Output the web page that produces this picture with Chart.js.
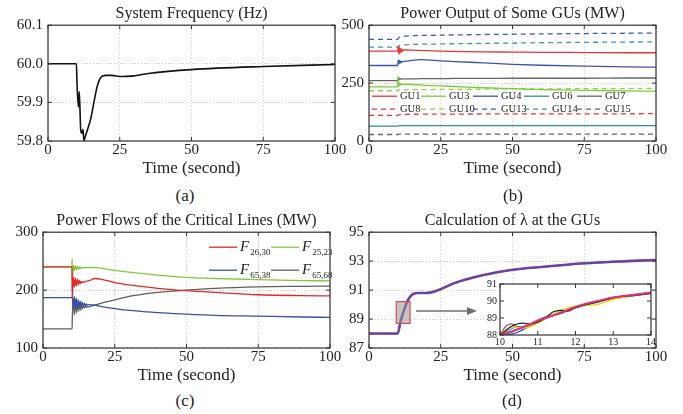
<!DOCTYPE html>
<html>
<head>
<meta charset="utf-8">
<script src="https://cdn.jsdelivr.net/npm/chart.js@4.4.1/dist/chart.umd.min.js"></script>
<style>
body{margin:0;background:#fff;width:683px;height:414px;position:relative;overflow:hidden;font-family:'Liberation Serif',serif;color:#222;}
canvas{position:absolute;}
.lab{position:absolute;font-size:17px;transform:translate(-50%,-50%);white-space:nowrap;}
</style>
</head>
<body>
<canvas id="cA" width="360" height="180" style="left:0;top:0"></canvas>
<canvas id="cB" width="343" height="180" style="left:340px;top:0"></canvas>
<canvas id="cC" width="360" height="180" style="left:0;top:207px"></canvas>
<canvas id="cD" width="343" height="180" style="left:340px;top:207px"></canvas>
<canvas id="cI" width="180" height="76" style="left:478px;top:276px"></canvas>
<div class="lab" style="left:185px;top:196px">(a)</div>
<div class="lab" style="left:513px;top:196px">(b)</div>
<div class="lab" style="left:185px;top:401px">(c)</div>
<div class="lab" style="left:512px;top:401px">(d)</div>
<script>
const FONT = 'Liberation Serif';

// ticks
const timeTicks = [0, 25, 50, 75, 100];
const freqTicks = [59.8, 59.9, 60.0, 60.1];
const guTicks = [0, 250, 500];
const flowTicks = [100, 200, 300];
const lamTicks = [87, 89, 91, 93, 95];
const zoomTimeTicks = [10, 11, 12, 13, 14];
const zoomLamTicks = [88, 89, 90, 91];

// (a) system frequency
const tFreq = [0, 9.9, 10.1, 10.6, 10.9, 11.4, 11.8, 12.2, 12.5, 12.9, 13.7, 14.9, 16, 17.2, 18.3, 20, 22.2, 25.6, 29, 35, 50, 75, 100];
const freq = [60.0, 60.0, 59.95, 59.888, 59.928, 59.828, 59.82, 59.83, 59.80, 59.81, 59.828, 59.858, 59.90, 59.943, 59.964, 59.97, 59.97, 59.967, 59.968, 59.975, 59.985, 59.993, 59.998];

// (b) power output of some GUs
const tGU = [0, 10, 10.2, 10.4, 10.6, 10.8, 11.0, 11.2, 11.5, 11.8, 12.2, 13, 15, 18, 20, 25, 30, 40, 50, 60, 75, 90, 100];
const gu1 = [388, 388, 410, 375, 405, 380, 400, 384, 396, 388, 394, 393, 392, 391, 390, 388, 387, 385, 384, 383, 382, 381, 381];
const gu3 = [234, 234, 278, 238, 250, 240, 248, 242, 246, 244, 245, 245, 244, 242, 240, 238, 235, 230, 226, 222, 219, 216, 215];
const gu4 = [326, 326, 350, 332, 347, 336, 345, 339, 344, 342, 344, 345, 348, 351, 350, 346, 343, 337, 331, 327, 323, 320, 319];
const gu7 = [261, 261, 275, 265, 270, 266, 269, 267, 268, 268, 268, 268, 268, 269, 269, 269, 270, 270, 271, 271, 271, 272, 272];
const gu10 = [217, 217, 222, 219, 221, 220, 221, 220, 221, 221, 221, 221, 222, 222, 222, 223, 223, 224, 225, 225, 226, 226, 227];
const tGUflat = [0, 10, 10.5, 12, 25, 50, 75, 100];
const gu6 = [64, 64, 66, 66, 66, 66, 66, 66];
const gu8 = [111, 111, 114, 115, 116, 117, 117, 118];
const gu13 = [439, 439, 448, 452, 457, 461, 464, 466];
const gu14 = [405, 405, 412, 415, 419, 423, 426, 428];
const gu15 = [28, 28, 30, 30, 30, 30, 30, 30];

// (c) power flows of the critical lines
const tFlow = [0, 10.1, 10.15, 10.2, 10.55, 10.9, 11.25, 11.6, 11.95, 12.3, 12.65, 13.0, 13.35, 13.7, 14.05, 14.4, 14.75, 15.1, 15.45, 15.8, 16.5, 18, 20, 25, 30, 35, 40, 50, 60, 75, 90, 100];
const f2630 = [240, 240, 215, 185, 222, 205, 221, 207, 219, 209, 217, 211, 215, 213, 214, 214, 215, 215, 216, 216, 217, 220, 219, 213, 209, 206, 203, 199, 196, 192, 190.5, 190];
const f2523 = [240, 240, 254, 198, 243, 234, 242, 235, 241, 236, 240, 237, 239.5, 238, 239, 238.5, 239, 239, 239, 239, 239, 239, 238, 234, 231, 228.5, 226, 222, 220, 218, 216.5, 216];
const f6538 = [187, 187, 187, 190, 168, 189, 169, 186, 170, 183, 171, 181, 172, 179, 173, 177, 173.5, 176, 174, 175, 174.5, 174, 172, 168, 165, 163, 161, 158.5, 156.5, 155, 153.5, 153];
const f6568 = [133, 133, 133, 150, 185, 157, 183, 160, 180, 163, 178, 165, 176, 167, 174, 169, 173, 170, 172, 171, 172, 174, 177, 183, 189, 193, 196, 200, 203, 205.5, 206.5, 207];

// (d) lambda at the GUs
const tLam = [0, 10, 11, 12, 13, 14, 15, 16, 17, 20, 22, 25, 30, 35, 40, 50, 60, 75, 90, 100];
const lam = [88, 88, 88.85, 89.5, 90.05, 90.45, 90.68, 90.78, 90.8, 90.8, 90.86, 91.07, 91.5, 91.8, 92.05, 92.4, 92.6, 92.85, 93.0, 93.08];
// zoomed window 10-14 s
const tZoom = [10, 10.15, 10.3, 10.45, 10.6, 10.8, 11, 11.2, 11.4, 11.6, 11.8, 12, 12.3, 12.6, 13, 13.5, 14];
const lamBlack = [88, 88.25, 88.5, 88.65, 88.7, 88.65, 88.75, 89.0, 89.35, 89.45, 89.4, 89.6, 89.8, 89.95, 90.2, 90.32, 90.45];
const lamYellow = [88, 88.3, 88.5, 88.45, 88.4, 88.5, 88.7, 88.95, 89.2, 89.45, 89.6, 89.7, 89.75, 89.8, 90.1, 90.3, 90.45];
const lamPurple = [88, 88.5, 88.65, 88.5, 88.45, 88.55, 88.8, 89.0, 89.15, 89.3, 89.45, 89.6, 89.85, 90.0, 90.2, 90.35, 90.5];
const lamBlue = [88, 88.0, 88.05, 88.15, 88.3, 88.55, 88.85, 89.05, 89.15, 89.25, 89.45, 89.6, 89.8, 89.95, 90.15, 90.3, 90.45];
const lamGreen = [88, 88.05, 88.15, 88.3, 88.45, 88.6, 88.8, 88.95, 89.15, 89.35, 89.5, 89.65, 89.8, 89.95, 90.15, 90.3, 90.45];
const lamCyan = [88, 88.15, 88.35, 88.5, 88.5, 88.55, 88.8, 89.05, 89.2, 89.3, 89.45, 89.6, 89.85, 90.0, 90.2, 90.33, 90.47];
const lamPink = [88, 88.1, 88.2, 88.32, 88.45, 88.65, 88.85, 89.0, 89.15, 89.3, 89.48, 89.65, 89.85, 90.0, 90.2, 90.35, 90.5];

// marked region in (d) and the arrow towards the inset
const zoomBox = {x0: 9.5, x1: 14.3, y0: 88.7, y1: 90.2};
const arrowAt = {x0: 16.4, x1: 37.6, y: 89.55};

function pts(t, v) { return t.map((x, i) => ({x: x, y: v[i]})); }

// order: lower numbers are painted on top
function line(label, t, v, color, width, dash, order) {
  return {label: label, data: pts(t, v), borderColor: color, borderWidth: width,
    borderDash: dash || [], pointRadius: 0, fill: false, cubicInterpolationMode: 'monotone',
    order: order || 0};
}

// frame round the plot area with inward tick marks
const boxPlugin = {
  id: 'box',
  beforeDraw(chart, args, o) {
    if (!o.white) return;
    const a = chart.chartArea;
    chart.ctx.save();
    chart.ctx.fillStyle = '#fff';
    chart.ctx.fillRect(a.left, a.top, a.width, a.height);
    chart.ctx.restore();
  },
  afterDraw(chart) {
    const {ctx, chartArea: a, scales} = chart;
    ctx.save();
    ctx.strokeStyle = '#333';
    ctx.lineWidth = 1.2;
    ctx.strokeRect(a.left, a.top, a.width, a.height);
    ctx.lineWidth = 1;
    ctx.beginPath();
    scales.x.ticks.forEach(t => {
      const p = scales.x.getPixelForValue(t.value);
      ctx.moveTo(p, a.bottom); ctx.lineTo(p, a.bottom - 4);
      ctx.moveTo(p, a.top); ctx.lineTo(p, a.top + 4);
    });
    scales.y.ticks.forEach(t => {
      const p = scales.y.getPixelForValue(t.value);
      ctx.moveTo(a.left, p); ctx.lineTo(a.left + 4, p);
      ctx.moveTo(a.right, p); ctx.lineTo(a.right - 4, p);
    });
    ctx.stroke();
    ctx.restore();
  }
};

// legend drawn inside the plot area
const inLegend = {
  id: 'inLegend',
  afterDraw(chart, args, o) {
    if (!o.cols) return;
    const {ctx, chartArea: a} = chart;
    chart.data.datasets.forEach((ds, i) => {
      const c = i % o.cols, r = Math.floor(i / o.cols);
      const x = a.left + o.x[c], y = a.top + o.y[r];
      ctx.save();
      ctx.strokeStyle = ds.borderColor;
      ctx.lineWidth = 1.3;
      ctx.setLineDash(ds.borderDash);
      ctx.beginPath(); ctx.moveTo(x, y); ctx.lineTo(x + o.len, y); ctx.stroke();
      ctx.setLineDash([]);
      ctx.fillStyle = '#222';
      ctx.textBaseline = 'middle';
      const tx = x + o.len + 3;
      if (o.sub) {
        ctx.font = 'italic ' + o.size + 'px ' + FONT;
        ctx.fillText(ds.label[0], tx, y);
        const w = ctx.measureText(ds.label[0]).width;
        ctx.font = Math.round(o.size * 0.6) + 'px ' + FONT;
        ctx.fillText(ds.label.slice(1), tx + w + 1, y + 5);
      } else {
        ctx.font = o.size + 'px ' + FONT;
        ctx.fillText(ds.label, tx, y);
      }
      ctx.restore();
    });
  }
};

// grey box with red edge and arrow in (d)
const zoomMark = {
  id: 'zoomMark',
  afterDatasetsDraw(chart, args, o) {
    if (!o.box) return;
    const {ctx, scales: {x, y}} = chart;
    const bx0 = x.getPixelForValue(o.box.x0), bx1 = x.getPixelForValue(o.box.x1);
    const by0 = y.getPixelForValue(o.box.y1), by1 = y.getPixelForValue(o.box.y0);
    ctx.save();
    ctx.fillStyle = 'rgba(150,150,150,0.55)';
    ctx.fillRect(bx0, by0, bx1 - bx0, by1 - by0);
    ctx.strokeStyle = '#e04848';
    ctx.lineWidth = 1.2;
    ctx.strokeRect(bx0, by0, bx1 - bx0, by1 - by0);
    const ax0 = x.getPixelForValue(o.arrow.x0), ax1 = x.getPixelForValue(o.arrow.x1);
    const ay = y.getPixelForValue(o.arrow.y);
    ctx.strokeStyle = '#6e6e6e';
    ctx.fillStyle = '#6e6e6e';
    ctx.lineWidth = 1.5;
    ctx.beginPath(); ctx.moveTo(ax0, ay); ctx.lineTo(ax1 - 8, ay); ctx.stroke();
    ctx.beginPath(); ctx.moveTo(ax1, ay); ctx.lineTo(ax1 - 10, ay - 4); ctx.lineTo(ax1 - 10, ay + 4); ctx.closePath(); ctx.fill();
    ctx.restore();
  }
};

Chart.register(boxPlugin, inLegend, zoomMark);

function axis(tickList, min, max, size, fmt, extra) {
  const s = {
    type: 'linear', min: min, max: max,
    afterBuildTicks: sc => { sc.ticks = tickList.map(v => ({value: v})); },
    ticks: {font: {family: FONT, size: size, lineHeight: 1}, color: '#222', padding: 2,
      maxRotation: 0, autoSkip: false, callback: fmt || (v => String(v))},
    grid: {color: '#cdcdcd', lineWidth: 1, drawTicks: false},
    border: {display: false, dash: [1, 2]}
  };
  return Object.assign(s, extra || {});
}

function timeAxis() {
  return axis(timeTicks, 0, 100, 15, null, {
    title: {display: true, text: 'Time (second)', font: {family: FONT, size: 17, lineHeight: 1}, color: '#222', padding: 0}
  });
}

function yAxis(tickList, min, max, width, fmt) {
  const s = axis(tickList, min, max, 15, fmt);
  s.ticks.padding = 5;
  s.afterFit = sc => { sc.width = width; };
  return s;
}

function options(title, padding, x, y, plugins) {
  return {
    responsive: false, animation: false, devicePixelRatio: 1,
    layout: {padding: padding},
    scales: {x: x, y: y},
    plugins: Object.assign({
      legend: {display: false}, tooltip: {enabled: false},
      title: {display: !!title, text: title, fullSize: false, color: '#222',
        font: {family: FONT, size: 16, weight: 'normal', lineHeight: 1.2}, padding: {top: 4, bottom: 2}}
    }, plugins || {})
  };
}

new Chart(document.getElementById('cA'), {
  type: 'line',
  data: {datasets: [line('Frequency', tFreq, freq, '#111', 1.6)]},
  options: options('System Frequency (Hz)', {left: 8, right: 25, top: 0, bottom: 3},
    timeAxis(), yAxis(freqTicks, 59.8, 60.1, 40, v => v.toFixed(1)))
});

new Chart(document.getElementById('cB'), {
  type: 'line',
  data: {datasets: [
    line('GU1', tGU, gu1, '#e8353a', 1.3),
    line('GU3', tGU, gu3, '#7ccc3a', 1.3),
    line('GU4', tGU, gu4, '#3a55ad', 1.3),
    line('GU6', tGUflat, gu6, '#2f8f8f', 1.3),
    line('GU7', tGU, gu7, '#666', 1.3),
    line('GU8', tGUflat, gu8, '#e8353a', 1.3, [5, 4]),
    line('GU10', tGU, gu10, '#8fd04a', 1.3, [5, 4]),
    line('GU13', tGUflat, gu13, '#3a5bc0', 1.3, [5, 4]),
    line('GU14', tGUflat, gu14, '#3a9a9a', 1.3, [5, 4]),
    line('GU15', tGUflat, gu15, '#666', 1.3, [5, 4])
  ]},
  options: options('Power Output of Some GUs (MW)', {left: 0, right: 27, top: 0, bottom: 3},
    timeAxis(), yAxis(guTicks, 0, 500, 29),
    {inLegend: {cols: 5, x: [3, 52, 104, 155, 208], y: [71, 84], len: 25, size: 10.5}})
});

new Chart(document.getElementById('cC'), {
  type: 'line',
  data: {datasets: [
    line('F26,30', tFlow, f2630, '#e02828', 1.3, null, 0),
    line('F25,23', tFlow, f2523, '#82c840', 1.3, null, 1),
    line('F65,38', tFlow, f6538, '#3552a8', 1.3, null, 0),
    line('F65,68', tFlow, f6568, '#5f5f5f', 1.3, null, 1)
  ]},
  options: options('Power Flows of the Critical Lines (MW)', {left: 3, right: 30, top: 0, bottom: 3},
    timeAxis(), yAxis(flowTicks, 100, 300, 40),
    {inLegend: {cols: 2, x: [166, 228], y: [15, 38], len: 28, size: 15, sub: true}})
});

new Chart(document.getElementById('cD'), {
  type: 'line',
  data: {datasets: [
    line('GU b', tLam, lam, '#4650b4', 1.8, null, 0),
    line('GU a', tLam, lam, '#d0306a', 2.6, null, 1)
  ]},
  options: options('Calculation of \u03bb at the GUs', {left: 0, right: 27, top: 0, bottom: 3},
    timeAxis(), yAxis(lamTicks, 87, 95, 29),
    {zoomMark: {box: zoomBox, arrow: arrowAt}})
});

const insetX = axis(zoomTimeTicks, 10, 14, 10);
insetX.grid = {display: false, drawTicks: false};
const insetY = axis(zoomLamTicks, 88, 91, 10);
insetY.grid = {display: false, drawTicks: false};
insetY.ticks.padding = 3;
insetY.afterFit = sc => { sc.width = 22; };
new Chart(document.getElementById('cI'), {
  type: 'line',
  data: {datasets: [
    line('pink', tZoom, lamPink, '#e0307a', 2, null, 0),
    line('black', tZoom, lamBlack, '#222', 1.2, null, 1),
    line('yellow', tZoom, lamYellow, '#e8d800', 1.4, null, 1),
    line('purple', tZoom, lamPurple, '#a040c0', 1.2, null, 1),
    line('blue', tZoom, lamBlue, '#3050c8', 1.2, null, 1),
    line('green', tZoom, lamGreen, '#40a040', 1.2, null, 1),
    line('cyan', tZoom, lamCyan, '#30b0c0', 1.2, null, 1)
  ]},
  options: options('', {left: 0, right: 7, top: 5, bottom: 3}, insetX, insetY, {box: {white: true}})
});
</script>
</body>
</html>
